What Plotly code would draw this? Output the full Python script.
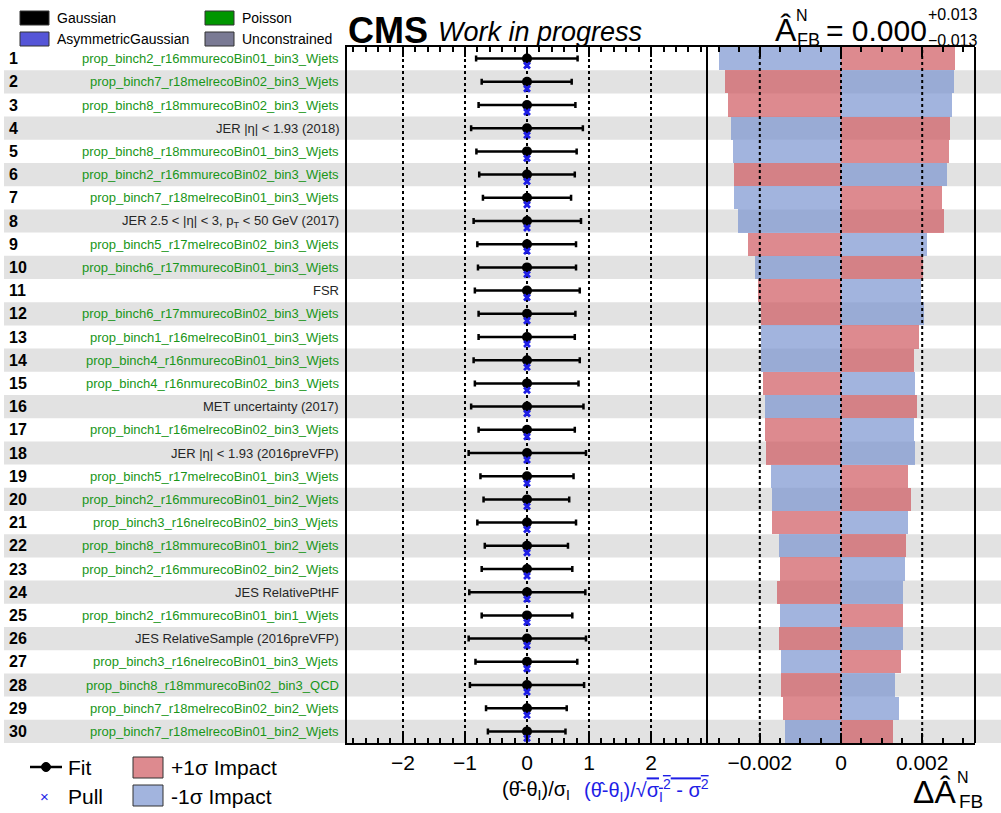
import plotly.graph_objects as go

# ---------------- data ----------------
rows = list(range(1, 31))
labels = [
    "prop_binch2_r16mmurecoBin01_bin3_Wjets",
    "prop_binch7_r18melrecoBin02_bin3_Wjets",
    "prop_binch8_r18mmurecoBin02_bin3_Wjets",
    "JER |η| &lt; 1.93 (2018)",
    "prop_binch8_r18mmurecoBin01_bin3_Wjets",
    "prop_binch2_r16mmurecoBin02_bin3_Wjets",
    "prop_binch7_r18melrecoBin01_bin3_Wjets",
    "JER 2.5 &lt; |η| &lt; 3, p<sub>T</sub> &lt; 50 GeV (2017)",
    "prop_binch5_r17melrecoBin02_bin3_Wjets",
    "prop_binch6_r17mmurecoBin01_bin3_Wjets",
    "FSR",
    "prop_binch6_r17mmurecoBin02_bin3_Wjets",
    "prop_binch1_r16melrecoBin01_bin3_Wjets",
    "prop_binch4_r16nmurecoBin01_bin3_Wjets",
    "prop_binch4_r16nmurecoBin02_bin3_Wjets",
    "MET uncertainty (2017)",
    "prop_binch1_r16melrecoBin02_bin3_Wjets",
    "JER |η| &lt; 1.93 (2016preVFP)",
    "prop_binch5_r17melrecoBin01_bin3_Wjets",
    "prop_binch2_r16mmurecoBin01_bin2_Wjets",
    "prop_binch3_r16nelrecoBin02_bin3_Wjets",
    "prop_binch8_r18mmurecoBin01_bin2_Wjets",
    "prop_binch2_r16mmurecoBin02_bin2_Wjets",
    "JES RelativePtHF",
    "prop_binch2_r16mmurecoBin01_bin1_Wjets",
    "JES RelativeSample (2016preVFP)",
    "prop_binch3_r16nelrecoBin01_bin3_Wjets",
    "prop_binch8_r18mmurecoBin02_bin3_QCD",
    "prop_binch7_r18melrecoBin02_bin2_Wjets",
    "prop_binch7_r18melrecoBin01_bin2_Wjets",
]
fit_vals = [0.0, 0.0, 0.0, 0.0, 0.0, 0.0, 0.0, 0.0, 0.0, 0.0,
            0.0, 0.0, 0.0, 0.0, 0.0, 0.0, 0.0, 0.0, 0.0, 0.0,
            0.0, 0.0, 0.0, 0.0, 0.0, 0.0, 0.0, 0.0, 0.0, 0.0]
pull_vals = [0.0, 0.0, 0.0, 0.0, 0.0, 0.0, 0.0, 0.0, 0.0, 0.0,
             0.0, 0.0, 0.0, 0.0, 0.0, 0.0, 0.0, 0.0, 0.0, 0.0,
             0.0, 0.0, 0.0, 0.0, 0.0, 0.0, 0.0, 0.0, 0.0, 0.0]
err_lo = [0.82, 0.73, 0.78, 0.90, 0.815, 0.77, 0.71, 0.86, 0.80, 0.79,
          0.84, 0.78, 0.78, 0.86, 0.84, 0.90, 0.78, 0.94, 0.75, 0.70,
          0.80, 0.68, 0.73, 0.93, 0.73, 0.94, 0.83, 0.92, 0.66, 0.63]
err_hi = [0.815, 0.72, 0.78, 0.90, 0.80, 0.77, 0.71, 0.87, 0.79, 0.79,
          0.85, 0.78, 0.77, 0.85, 0.83, 0.91, 0.77, 0.95, 0.75, 0.68,
          0.79, 0.66, 0.73, 0.94, 0.73, 0.95, 0.81, 0.92, 0.64, 0.62]
impact_plus = [0.00281, -0.00286, -0.00278, 0.00268, 0.00265, -0.00264, 0.00249, 0.00254, -0.00229, 0.00203,
               -0.00205, -0.00197, 0.00191, 0.00180, -0.00192, 0.00187, -0.00186, -0.00185, 0.00166, 0.00172,
               -0.00169, 0.00159, -0.00150, -0.00157, 0.00153, -0.00153, 0.00147, -0.00147, -0.00143, 0.00127]
impact_minus = [-0.00301, 0.00278, 0.00273, -0.00270, -0.00265, 0.00260, -0.00263, -0.00254, 0.00213, -0.00213,
                0.00198, 0.00204, -0.00196, -0.00196, 0.00181, -0.00187, 0.00179, 0.00181, -0.00172, -0.00171,
                0.00164, -0.00152, 0.00157, 0.00152, -0.00151, 0.00152, -0.00149, 0.00134, 0.00143, -0.00138]
pull_ticks = [-2, -1, 0, 1, 2]
impact_ticks = [-0.002, 0.0, 0.002]
impact_ticktext = ["\u22120.002", "0", "0.002"]

# ---------------- layout helpers ----------------
W, H = 1001, 813
L, R, T, B = 347, 26, 47, 70
PW = W - L - R
PH = H - T - B
FONT = "Liberation Sans, Arial, Helvetica, sans-serif"


def px(x):
    return (x - L) / PW


def py(y):
    return (H - B - y) / PH


split = px(707)
RED = "rgba(206,88,95,0.7)"
BLUE = "rgba(122,148,208,0.7)"
GREEN = "rgb(25,150,25)"
PULLBLUE = "rgb(30,30,230)"

fig = go.Figure()
fig.add_trace(go.Bar(x=impact_plus, y=rows, orientation="h", xaxis="x2", yaxis="y",
                     width=1.0, marker=dict(color=RED, line=dict(width=0)), showlegend=False))
fig.add_trace(go.Bar(x=impact_minus, y=rows, orientation="h", xaxis="x2", yaxis="y",
                     width=1.0, marker=dict(color=BLUE, line=dict(width=0)), showlegend=False))
fig.add_trace(go.Scatter(x=fit_vals, y=rows, mode="markers", xaxis="x", yaxis="y",
                         marker=dict(color="black", size=10),
                         error_x=dict(type="data", symmetric=False, array=err_hi, arrayminus=err_lo,
                                      color="black", thickness=2.5, width=3),
                         showlegend=False))
fig.add_trace(go.Scatter(x=pull_vals, y=[r + 0.3 for r in rows], mode="markers", xaxis="x", yaxis="y",
                         marker=dict(symbol="x", color=PULLBLUE, size=7, line=dict(width=0)),
                         showlegend=False))

shapes = []
# alternating stripes
for r in rows:
    if r % 2 == 0:
        shapes.append(dict(type="rect", xref="paper", yref="y", x0=px(4), x1=px(1001),
                           y0=r - 0.5, y1=r + 0.5, fillcolor="#e2e2e2", line=dict(width=0),
                           layer="below"))
# dotted reference lines in the impact panel
for v in impact_ticks:
    shapes.append(dict(type="line", xref="x2", yref="paper", x0=v, x1=v, y0=0, y1=1,
                       line=dict(color="black", width=2, dash="dot"), layer="above"))
# frame lines
for xv in [0, 1]:
    shapes.append(dict(type="line", xref="x2 domain", yref="paper", x0=xv, x1=xv, y0=0, y1=1,
                       line=dict(color="black", width=2), layer="above"))

annotations = []
for r, lab in zip(rows, labels):
    col = GREEN if lab.startswith("prop_") else "#262626"
    annotations.append(dict(xref="paper", yref="y", x=px(341), y=r, xanchor="right", yanchor="middle",
                            text=lab, showarrow=False, font=dict(family=FONT, size=13, color=col)))
    annotations.append(dict(xref="paper", yref="y", x=px(7), y=r, xanchor="left", yanchor="middle",
                            text="<b>%d</b>" % r, showarrow=False, font=dict(family=FONT, size=16, color="black")))


def txt(x, y, s, size, color="black", anchor="left", family=FONT):
    annotations.append(dict(xref="paper", yref="paper", x=px(x), y=py(y), xanchor=anchor, yanchor="middle",
                            text=s, showarrow=False, font=dict(family=family, size=size, color=color)))


# header
txt(346, 30, "<b>CMS</b>", 36)
txt(436, 32, "<i>Work in progress</i>", 27)
txt(773, 30, "A\u0302", 32)
txt(794, 15, "N", 16)
txt(795, 40, "FB", 18)
txt(824, 30, "= 0.000", 30)
txt(926, 14, "+0.013", 16)
txt(926, 40, "\u22120.013", 16)

# top-left legend
leg_top = [("Gaussian", "black", 20, 18), ("AsymmetricGaussian", "rgb(85,85,215)", 20, 39),
           ("Poisson", "rgb(0,150,0)", 205, 18), ("Unconstrained", "rgb(122,122,148)", 205, 39)]
for name, c, x0, yc in leg_top:
    shapes.append(dict(type="rect", xref="paper", yref="paper", x0=px(x0), x1=px(x0 + 29),
                       y0=py(yc - 7), y1=py(yc + 7), fillcolor=c, line=dict(color="#333", width=1)))
    txt(x0 + 35, yc, name, 14)

# bottom legend
shapes.append(dict(type="line", xref="paper", yref="paper", x0=px(30), x1=px(62), y0=py(767), y1=py(767),
                   line=dict(color="black", width=2.5)))
shapes.append(dict(type="circle", xref="paper", yref="paper", x0=px(41.5), x1=px(50.5), y0=py(771.5), y1=py(762.5),
                   fillcolor="black", line=dict(color="black", width=1)))
txt(66, 767, "Fit", 21)
txt(44, 796, "\u00d7", 15, color=PULLBLUE, anchor="center")
txt(66, 796, "Pull", 21)
shapes.append(dict(type="rect", xref="paper", yref="paper", x0=px(133), x1=px(163), y0=py(757), y1=py(778),
                   fillcolor=RED, line=dict(color="#333", width=1)))
shapes.append(dict(type="rect", xref="paper", yref="paper", x0=px(133), x1=px(163), y0=py(785), y1=py(806),
                   fillcolor=BLUE, line=dict(color="#333", width=1)))
txt(169, 767, "+1σ Impact", 21)
txt(169, 796, "-1σ Impact", 21)

# axis titles
NB = "\u00a0"
txt(572, 790, "(θ\u0302-θ<sub>I</sub>)/σ<sub>I</sub>", 20, anchor="right")
txt(711, 790, "(θ\u0302-θ<sub>I</sub>)/√<span style=\"text-decoration:overline\">σ<sub>I</sub><sup>2</sup>"
    + NB + "-" + NB + "σ<sup>2</sup></span>", 20, color=PULLBLUE, anchor="right")
txt(958, 792, "ΔA\u0302", 32, anchor="right")
txt(955, 777, "N", 16)
txt(957, 802, "FB", 19)

axis_common = dict(showline=True, linecolor="black", linewidth=2, mirror="ticks", ticks="inside",
                   tickcolor="black", tickwidth=1.5, ticklen=10, zeroline=False,
                   tickfont=dict(family=FONT, size=21, color="black"), anchor="y")

fig.update_layout(
    width=W, height=H, margin=dict(l=L, r=R, t=T, b=B, autoexpand=False),
    paper_bgcolor="white", plot_bgcolor="rgba(0,0,0,0)",
    barmode="overlay", showlegend=False, bargap=0,
    xaxis=dict(domain=[0, split], range=[-2.9, 2.9], tickvals=pull_ticks,
               showgrid=True, gridcolor="black", griddash="dot", gridwidth=1.5,
               minor=dict(dtick=0.2, ticks="inside", ticklen=5, tickcolor="black", showgrid=False),
               **axis_common),
    xaxis2=dict(domain=[split, 1], range=[-0.0033, 0.0033], tickvals=impact_ticks, ticktext=impact_ticktext,
                showgrid=False,
                minor=dict(dtick=0.0005, ticks="inside", ticklen=5, tickcolor="black", showgrid=False),
                **axis_common),
    yaxis=dict(domain=[0, 1], range=[30.5, 0.5], showticklabels=False, showgrid=False, zeroline=False,
               showline=True, linecolor="black", linewidth=2, ticks=""),
    shapes=shapes, annotations=annotations,
    font=dict(family=FONT),
)

fig.write_html("out.html")
